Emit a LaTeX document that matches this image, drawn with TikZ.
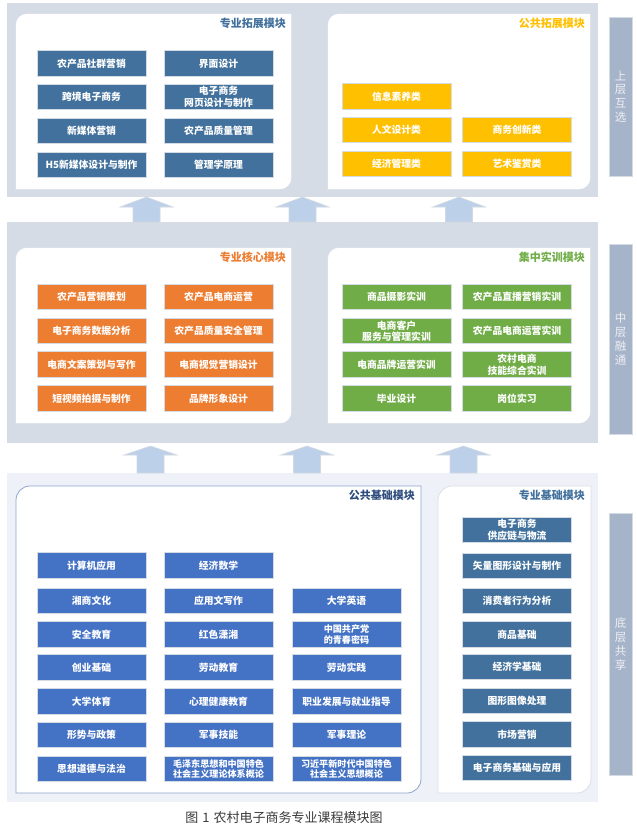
\documentclass[tikz,border=0pt]{standalone}
\usepackage{fontspec}
\setmainfont{Noto Sans CJK SC}
\definecolor{bandA}{HTML}{D6DCE5}
\definecolor{bandB}{HTML}{EEF2F8}
\definecolor{sidefill}{HTML}{A6B4CA}
\definecolor{sidetext}{HTML}{EDF0F5}
\definecolor{arrfill}{HTML}{BDD0E9}
\definecolor{arrline}{HTML}{D3D9E1}
\definecolor{steel}{HTML}{41719C}
\definecolor{royal}{HTML}{4472C4}
\definecolor{gold}{HTML}{FFC000}
\definecolor{orng}{HTML}{ED7D31}
\definecolor{grn}{HTML}{70AD47}
\definecolor{navy}{HTML}{2F4D7E}
\definecolor{pborder}{HTML}{8FA4CC}
\definecolor{plight}{HTML}{D9DEE6}
\definecolor{boxline}{HTML}{D5DBE3}
\definecolor{captxt}{HTML}{3A3A3A}
\newcommand\dgpanel[6]{% x1 y1 x2 y2 r style
  \draw[#6] (#1,#4) -- (#1,#2+#5) .. controls (#1,#2+0.448*#5) and (#1+0.448*#5,#2) .. (#1+#5,#2)
    -- (#3,#2) -- (#3,#4-#5) .. controls (#3,#4-0.448*#5) and (#3-0.448*#5,#4) .. (#3-#5,#4) -- cycle;}
\newcommand\blockarr[4]{% cx ytop ybase ybot
  \draw[arrshape] (#1,#2) -- (#1+26.5,#3) -- (#1+13.5,#3) -- (#1+13.5,#4) -- (#1-13.5,#4)
    -- (#1-13.5,#3) -- (#1-26.5,#3) -- cycle;}
\tikzset{
  crs/.style={draw=boxline, line width=0.6pt, minimum width=109pt, minimum height=25.5pt,
    inner sep=0pt, text=white, align=center,
    font=\bfseries\fontsize{9.8}{11.5}\selectfont},
  crsS/.style={crs, font=\bfseries\fontsize{9.1}{10.8}\selectfont},
  sbox/.style={crs, fill=steel},
  ybox/.style={crs, fill=gold},
  obox/.style={crs, fill=orng},
  gbox/.style={crs, fill=grn},
  bbox/.style={crs, fill=royal},
  bboxS/.style={crsS, fill=royal},
  ttl/.style={anchor=east, inner sep=0pt, font=\bfseries\fontsize{11}{13}\selectfont},
  sidelab/.style={fill=sidefill, draw=boxline, line width=0.5pt, minimum width=23pt, inner sep=0pt},
  sidetxt/.style={text=sidetext, align=center, inner sep=0pt, font=\fontsize{11.5}{13.8}\selectfont},
  arrshape/.style={fill=arrfill, draw=arrline, line width=0.6pt},
}
\begin{document}
\begin{tikzpicture}[x=1pt,y=-1pt]
\useasboundingbox[fill=white] (0,0) rectangle (637,828);
% bands
\fill[bandA] (7,3) rectangle (598,197);
\fill[bandA] (7,222) rectangle (598,443);
\fill[bandB] (7,473) rectangle (598,802);
% panels
\dgpanel{16}{14}{291}{189}{11}{fill=white, draw=white}
\dgpanel{328}{14}{590}{189}{11}{fill=white, draw=white}
\dgpanel{16}{248}{291}{423}{11}{fill=white, draw=white}
\dgpanel{328}{248}{590}{423}{11}{fill=white, draw=white}
\dgpanel{16}{486}{421}{793}{14}{fill=white, draw=pborder, line width=0.8pt}
\dgpanel{438}{486}{591}{793}{14}{fill=white, draw=plight, line width=0.8pt}
% titles
\node[ttl, text=steel] (t1) at (286,23) {专业拓展模块};
\node[ttl, text=gold] (t2) at (585,23) {公共拓展模块};
\node[ttl, text=orng] (t3) at (286,257) {专业核心模块};
\node[ttl, text=grn] (t4) at (585,257) {集中实训模块};
\node[ttl, text=navy] (t5) at (415,495) {公共基础模块};
\node[ttl, text=steel] (t6) at (585,495) {专业基础模块};
% top-left
\node[sbox] (a1) at (91.5,63.5) {农产品社群营销};
\node[sbox] (a2) at (218.5,63.5) {界面设计};
\node[sbox] (a3) at (91.5,97) {跨境电子商务};
\node[sbox] (a4) at (218.5,97) {电子商务\\网页设计与制作};
\node[sbox] (a5) at (91.5,131) {新媒体营销};
\node[sbox] (a6) at (218.5,131) {农产品质量管理};
\node[sbox] (a7) at (91.5,165) {H5新媒体设计与制作};
\node[sbox] (a8) at (218.5,165) {管理学原理};
% top-right
\node[ybox] (b1) at (396.5,96.5) {信息素养类};
\node[ybox] (b2) at (396.5,130) {人文设计类};
\node[ybox] (b3) at (517,130) {商务创新类};
\node[ybox] (b4) at (396.5,164) {经济管理类};
\node[ybox] (b5) at (517,164) {艺术鉴赏类};
% middle-left
\node[obox] (c1) at (91.5,297) {农产品营销策划};
\node[obox] (c2) at (218.5,297) {农产品电商运营};
\node[obox] (c3) at (91.5,331) {电子商务数据分析};
\node[obox] (c4) at (218.5,331) {农产品质量安全管理};
\node[obox] (c5) at (91.5,364.5) {电商文案策划与写作};
\node[obox] (c6) at (218.5,364.5) {电商视觉营销设计};
\node[obox] (c7) at (91.5,398.5) {短视频拍摄与制作};
\node[obox] (c8) at (218.5,398.5) {品牌形象设计};
% middle-right
\node[gbox] (d1) at (396.5,297) {商品摄影实训};
\node[gbox] (d2) at (517,297) {农产品直播营销实训};
\node[gbox] (d3) at (396.5,331) {电商客户\\服务与管理实训};
\node[gbox] (d4) at (517,331) {农产品电商运营实训};
\node[gbox] (d5) at (396.5,364.5) {电商品牌运营实训};
\node[gbox] (d6) at (517,364.5) {农村电商\\技能综合实训};
\node[gbox] (d7) at (396.5,398.5) {毕业设计};
\node[gbox] (d8) at (517,398.5) {岗位实习};
% bottom-left
\node[bbox] (e1) at (91.5,565.5) {计算机应用};
\node[bbox] (e2) at (218.5,565.5) {经济数学};
\node[bbox] (e3) at (91.5,601) {湘商文化};
\node[bbox] (e4) at (218.5,601) {应用文写作};
\node[bbox] (e5) at (346.5,601) {大学英语};
\node[bbox] (e6) at (91.5,634.5) {安全教育};
\node[bbox] (e7) at (218.5,634.5) {红色潇湘};
\node[bboxS] (e8) at (346.5,634.5) {中国共产党\\的青春密码};
\node[bbox] (e9) at (91.5,667.5) {创业基础};
\node[bbox] (e10) at (218.5,667.5) {劳动教育};
\node[bbox] (e11) at (346.5,667.5) {劳动实践};
\node[bbox] (e12) at (91.5,701.5) {大学体育};
\node[bbox] (e13) at (218.5,701.5) {心理健康教育};
\node[bbox] (e14) at (346.5,701.5) {职业发展与就业指导};
\node[bbox] (e15) at (91.5,735) {形势与政策};
\node[bbox] (e16) at (218.5,735) {军事技能};
\node[bbox] (e17) at (346.5,735) {军事理论};
\node[bbox] (e18) at (91.5,769) {思想道德与法治};
\node[bboxS] (e19) at (218.5,769) {毛泽东思想和中国特色\\社会主义理论体系概论};
\node[bboxS] (e20) at (346.5,769) {习近平新时代中国特色\\社会主义思想概论};
% bottom-right
\node[sbox] (f1) at (517,530) {电子商务\\供应链与物流};
\node[sbox] (f2) at (517,566) {矢量图形设计与制作};
\node[sbox] (f3) at (517,601) {消费者行为分析};
\node[sbox] (f4) at (517,634.5) {商品基础};
\node[sbox] (f5) at (517,667) {经济学基础};
\node[sbox] (f6) at (517,701) {图形图像处理};
\node[sbox] (f7) at (517,734.5) {市场营销};
\node[sbox] (f8) at (517,768) {电子商务基础与应用};
% arrows
\blockarr{146.5}{197}{207}{222}
\blockarr{302.5}{197}{207}{222}
\blockarr{459}{197}{207}{222}
\blockarr{150.5}{446}{455}{473}
\blockarr{307}{446}{455}{473}
\blockarr{463.5}{446}{455}{473}
% side labels
\node[sidelab, minimum height=159pt] (s1) at (620.5,96.5) {};
\node[sidetxt] (s1t) at (s1.center) {上\\层\\互\\选};
\node[sidelab, minimum height=190pt] (s2) at (620.5,339) {};
\node[sidetxt] (s2t) at (s2.center) {中\\层\\融\\通};
\node[sidelab, minimum height=262pt] (s3) at (620.5,644) {};
\node[sidetxt] (s3t) at (s3.center) {底\\层\\共\\享};
% caption
\node[text=captxt, inner sep=0pt, font=\fontsize{13}{15}\selectfont] (cap) at (284,818) {图\hspace{4pt}1\hspace{4pt}农村电子商务专业课程模块图};
\end{tikzpicture}
\end{document}
